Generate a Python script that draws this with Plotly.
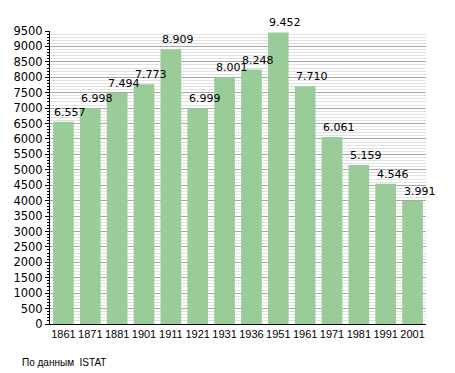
import plotly.graph_objects as go

years = ["1861", "1871", "1881", "1901", "1911", "1921", "1931", "1936",
         "1951", "1961", "1971", "1981", "1991", "2001"]
population = [6557, 6998, 7494, 7773, 8909, 6999, 8001, 8248,
              9452, 7710, 6061, 5159, 4546, 3991]
y_ticks = list(range(0, 9501, 500))
source_note = "По данным  ISTAT"

FONT = "Liberation Sans, Arial, sans-serif"
WIDE = "DejaVu Sans, Verdana, sans-serif"

def fmt(v):
    return f"{v:,}".replace(",", ".")

fig = go.Figure()
fig.add_trace(go.Bar(
    x=years, y=population,
    marker=dict(color="#99CC99", line=dict(width=0)),
    hoverinfo="x+y",
))

for i, v in enumerate(population):
    fig.add_annotation(
        x=i, y=v, xref="x", yref="y", text=fmt(v), showarrow=False,
        xanchor="left", yanchor="bottom", xshift=-11, yshift=1,
        font=dict(family=WIDE, size=11, color="black"),
    )

fig.add_annotation(
    xref="paper", yref="paper", x=-30 / 376, y=-38 / 293,
    text=source_note, showarrow=False,
    xanchor="left", yanchor="middle",
    font=dict(family=FONT, size=10, color="black"),
)

fig.update_layout(
    width=455, height=373,
    margin=dict(l=50, r=29, t=31, b=49, pad=0, autoexpand=False),
    paper_bgcolor="white", plot_bgcolor="white",
    bargap=0.23,
    showlegend=False,
    font=dict(family=FONT, size=11, color="black"),
    xaxis=dict(
        type="category", range=[-0.5, len(years) - 0.5], autorange=False,
        showgrid=False, ticks="", showline=True,
        linecolor="black", linewidth=1, tickfont=dict(family=FONT, size=11),
        fixedrange=True, automargin=False,
    ),
    yaxis=dict(
        range=[0, 9500], autorange=False, tickvals=y_ticks,
        ticktext=[str(t) for t in y_ticks],
        showgrid=True, gridcolor="#A8A8A8", gridwidth=1,
        showline=True, linecolor="black", linewidth=1,
        ticks="outside", ticklen=4, tickcolor="black", tickwidth=1,
        zeroline=False, tickfont=dict(family=WIDE, size=11.5),
        minor=dict(dtick=100, tick0=0, showgrid=True, gridcolor="#E2E2E2",
                   gridwidth=1, ticks="outside", ticklen=2, tickcolor="black"),
        fixedrange=True, automargin=False,
    ),
)

fig.write_html(
    "out.html",
    config={"displayModeBar": False},
    post_script="document.body.style.margin='0';document.body.style.overflow='hidden';",
)
